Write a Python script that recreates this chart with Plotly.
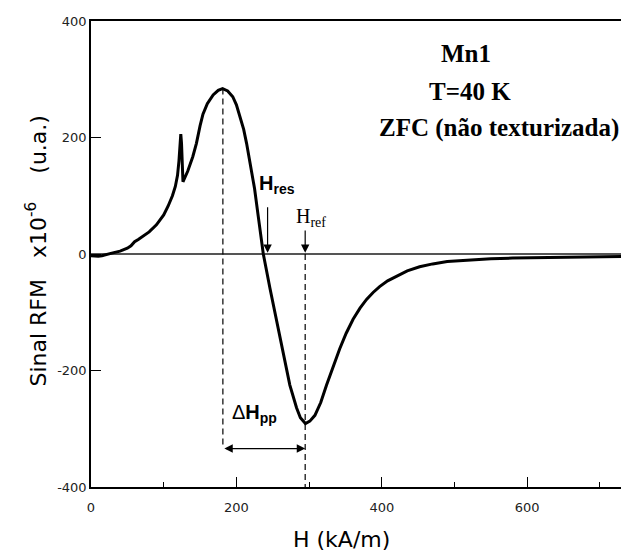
import plotly.graph_objects as go

# Field H (kA/m) and RFM signal (x1e-6, u.a.)
H = [0, 5, 10, 15, 20, 30, 40, 50, 55, 60, 65, 70, 80, 90, 100, 106, 112, 116,
     119, 121, 122.5, 123.5, 124.5, 125.5, 126.5, 128, 133, 140, 145, 150, 154,
     160, 168, 175, 181, 188, 195, 200, 205, 210, 214, 220, 225, 230, 237, 246,
     255, 264, 273.5, 282.7, 288, 295, 301, 308, 316, 324, 333, 342, 351, 360.5,
     370, 379, 388, 397, 408, 420, 435, 452, 470, 490, 520, 550, 580, 620, 660,
     700, 740]
S = [-3, -4, -4, -3, -1, 2, 5, 10, 14, 21, 25, 29, 38, 50, 67, 82, 100, 116,
     135, 160, 190, 206, 190, 150, 124, 128, 142, 167, 190, 220, 240,
     258, 273, 281, 284, 280, 270, 256, 237, 214, 190, 150, 112, 65, 0, -58,
     -113, -169, -225, -264, -281, -291, -287, -277, -255, -225, -193, -163, -136, -112,
     -93, -78, -66, -56, -46, -38, -29, -22, -17, -13, -10, -8, -7, -6, -5,
     -4, -4]

x_ticks = [0, 200, 400, 600]
x_minor = [100, 300, 500, 700]
y_ticks = [-400, -200, 0, 200, 400]
y_labels = ["-400", "-200", "0", "200", "400"]

H_peak = 181.4
H_min = 294.6
H_res = 242.9
S_peak = 284
S_arrow = -334

fig = go.Figure()
fig.add_trace(go.Scatter(x=H, y=S, mode="lines",
                         line=dict(color="black", width=3), showlegend=False))

fig.update_layout(
    width=629, height=555,
    margin=dict(l=83, r=8, t=6, b=76),
    paper_bgcolor="white", plot_bgcolor="white",
    font=dict(family="DejaVu Sans", color="#222"),
    xaxis=dict(range=[0, 740], tickvals=x_ticks, ticks="inside", ticklen=10,
               tickwidth=1.2, tickcolor="black", showline=True, linecolor="black",
               linewidth=1.5, mirror=True, showgrid=False, zeroline=False,
               tickfont=dict(size=13, family="DejaVu Sans", color="#222"),
               ticklabelstandoff=8,
               minor=dict(tickvals=x_minor, ticks="inside", ticklen=5,
                          tickwidth=1.2, tickcolor="black")),
    yaxis=dict(range=[-400, 400], tickvals=y_ticks, ticktext=y_labels,
               ticks="inside", ticklen=10,
               tickwidth=1.2, tickcolor="black", showline=True, linecolor="black",
               linewidth=1.5, showgrid=False, zeroline=True, zerolinecolor="#555",
               zerolinewidth=1.5,
               tickfont=dict(size=13, family="DejaVu Sans", color="#222")),
)

dash = "6px,4px"
fig.add_shape(type="line", x0=H_peak, x1=H_peak, y0=S_peak, y1=S_arrow,
              line=dict(color="black", width=1.2, dash=dash))
fig.add_shape(type="line", x0=H_min, x1=H_min, y0=0, y1=-400,
              line=dict(color="black", width=1.2, dash=dash))

# arrows
fig.add_annotation(x=H_res, y=2, ax=H_res, ay=83, axref="x", ayref="y", text="",
                   showarrow=True, arrowhead=2, arrowsize=1.4, arrowwidth=1.2,
                   arrowcolor="black", standoff=0)
fig.add_annotation(x=H_min, y=2, ax=H_min, ay=43, axref="x", ayref="y", text="",
                   showarrow=True, arrowhead=2, arrowsize=1.4, arrowwidth=1.2,
                   arrowcolor="black", standoff=0)
fig.add_annotation(x=H_min, y=S_arrow, ax=H_peak, ay=S_arrow, axref="x", ayref="y",
                   text="", showarrow=True, arrowhead=2, startarrowhead=2,
                   arrowside="end+start", arrowsize=1.4, startarrowsize=1.4,
                   arrowwidth=1.2, arrowcolor="black", standoff=0, startstandoff=0)

# labels
fig.add_annotation(x=255.7, y=119, text="<b>H<sub>res</sub></b>", showarrow=False,
                   xanchor="center", yanchor="middle",
                   font=dict(family="Liberation Sans", size=20, color="black"))
fig.add_annotation(x=302, y=62, text="H<sub>ref</sub>", showarrow=False,
                   xanchor="center", yanchor="middle",
                   font=dict(family="Liberation Serif", size=20, color="black"))
fig.add_annotation(x=225.4, y=-273, text="Δ<b>H<sub>pp</sub></b>", showarrow=False,
                   xanchor="center", yanchor="middle",
                   font=dict(family="Liberation Sans", size=20, color="black"))


def px_x(p):
    return (p - 91) / 538


def px_y(p):
    return (487 - p) / 473


serif = dict(family="Liberation Serif", size=25, color="black")
for txt, cx, cy in [("<b>Mn1</b>", 466, 47), ("<b>T=40 K</b>", 470, 86),
                    ("<b>ZFC (não texturizada)</b>", 499, 123)]:
    fig.add_annotation(xref="paper", yref="paper", x=px_x(cx), y=px_y(cy),
                       xanchor="center", yanchor="middle",
                       text=txt, showarrow=False, font=serif)

# axis titles
nb = "\u00a0"
fig.add_annotation(xref="paper", yref="paper", x=px_x(341), y=px_y(540),
                   xanchor="center", yanchor="middle",
                   text="H (kA/m)", showarrow=False,
                   font=dict(family="DejaVu Sans", size=22, color="black"))
fig.add_annotation(xref="paper", yref="paper", x=px_x(36), y=px_y(248),
                   xanchor="center", yanchor="middle",
                   text="Sinal RFM" + nb * 3 + "x10<sup>-6</sup>" + nb * 4 + "(u.a.)",
                   showarrow=False, textangle=-90,
                   font=dict(family="DejaVu Sans", size=22, color="black"))

fig.write_html("out.html")
